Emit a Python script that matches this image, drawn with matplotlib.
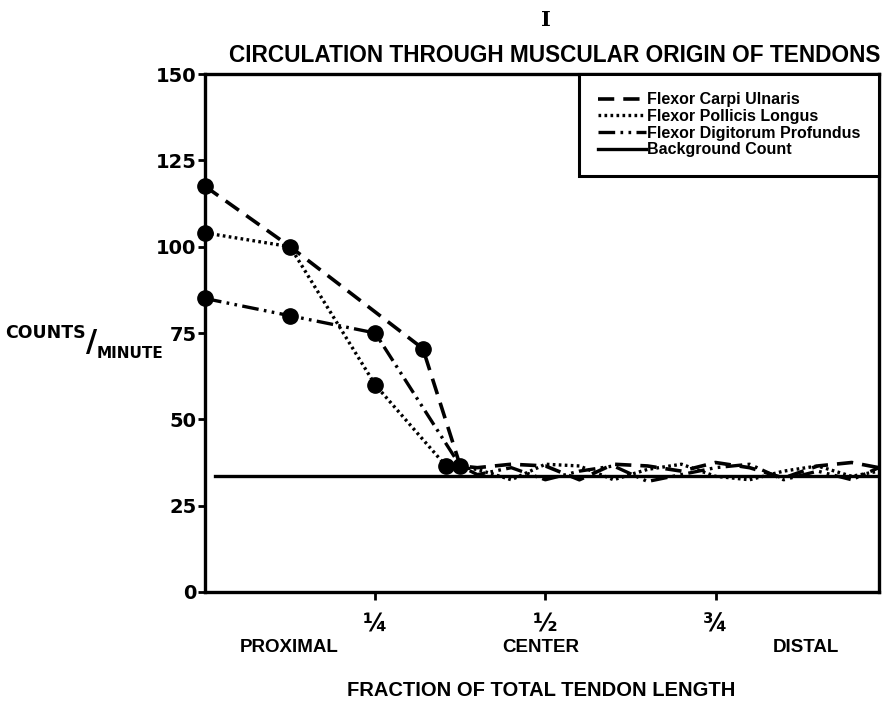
import numpy as np
import matplotlib
matplotlib.use("Agg")
from matplotlib import pyplot as plt

# fraction of tendon length along x, counts/minute along y
x_carpi = [0.0, 0.125, 0.32, 0.375, 0.40, 0.45, 0.50, 0.55, 0.60, 0.65, 0.70, 0.75, 0.80, 0.85, 0.90, 0.95, 0.99]
y_carpi = [117.5, 100, 70.5, 36.5, 36, 37, 36.5, 32.5, 37, 36.5, 35, 37.5, 36, 33, 36.5, 37.5, 36]

x_pollicis = [0.0, 0.125, 0.25, 0.354, 0.40, 0.45, 0.50, 0.55, 0.60, 0.65, 0.70, 0.75, 0.80, 0.85, 0.90, 0.95, 0.99]
y_pollicis = [104, 100, 60, 36.5, 35.5, 32.5, 37, 36.5, 32.5, 35.5, 37, 33.5, 32.5, 35, 36.5, 33.5, 35]

x_profundus = [0.0, 0.125, 0.25, 0.375, 0.40, 0.45, 0.50, 0.55, 0.60, 0.65, 0.70, 0.75, 0.80, 0.85, 0.90, 0.95, 0.99]
y_profundus = [85, 80, 75, 36.5, 34, 36, 32.5, 35, 36.5, 32, 34, 36, 37, 32.5, 35, 32.5, 36]

# points marked with dots
marked = [(0.0, 117.5), (0.125, 100), (0.32, 70.5), (0.375, 36.5),
          (0.0, 104), (0.25, 60), (0.354, 36.5),
          (0.0, 85), (0.125, 80), (0.25, 75)]

background_x = [0.015, 0.99]
background_y = [33.7, 33.7]

y_ticks = [0, 25, 50, 75, 100, 125, 150]
x_ticks = [0.25, 0.5, 0.75]
x_tick_labels = ['¼', '½', '¾']

plt.rcParams['font.family'] = ['DejaVu Sans']
plt.rcParams['font.weight'] = 'bold'

fig = plt.figure(figsize=(8.86, 7.01), dpi=100)
ax = fig.add_axes([0.2314, 0.1555, 0.7606, 0.7389])

ax.plot(x_carpi, y_carpi, color='black', lw=2.6, linestyle=(0, (4.5, 2.5)), label='Flexor Carpi Ulnaris')
ax.plot(x_pollicis, y_pollicis, color='black', lw=2.4, linestyle=(0, (0.8, 1.0)), label='Flexor Pollicis Longus')
ax.plot(x_profundus, y_profundus, color='black', lw=2.4, linestyle=(0, (5, 1.6, 0.8, 1.6, 0.8, 1.6)), label='Flexor Digitorum Profundus')
ax.plot(background_x, background_y, color='black', lw=2.4, label='Background Count')

mx = [p[0] for p in marked]
my = [p[1] for p in marked]
ax.plot(mx, my, 'o', color='black', ms=11, clip_on=False, zorder=5)

ax.set_xlim(0, 0.99)
ax.set_ylim(0, 150)
ax.set_yticks(y_ticks)
ax.set_yticklabels([str(v) for v in y_ticks], fontsize=14, fontweight='bold')
ax.set_xticks(x_ticks)
ax.set_xticklabels(x_tick_labels, fontsize=17, fontweight='bold')
ax.tick_params(axis='y', direction='out', length=5, width=2, pad=1)
ax.tick_params(axis='x', direction='out', length=6, width=2, pad=9)
for s in ax.spines.values():
    s.set_linewidth(2.4)

leg = ax.legend(loc='upper right', borderaxespad=0, fancybox=False, edgecolor='black',
                handlelength=3.0, handletextpad=0.1, labelspacing=0.1,
                borderpad=1.15, framealpha=1,
                prop={'family': 'Liberation Sans', 'weight': 'bold', 'size': 11.5})
leg.get_frame().set_linewidth(2.2)

fig.text(0.616, 0.972, 'I', ha='center', va='center', fontsize=15, fontweight='bold', family='DejaVu Serif')
fig.text(0.626, 0.921, 'CIRCULATION THROUGH MUSCULAR ORIGIN OF TENDONS', ha='center', va='center',
         fontsize=16.3, fontweight='bold', family='Liberation Sans')

for xv, lab in [(289, 'PROXIMAL'), (541, 'CENTER'), (806, 'DISTAL')]:
    fig.text(xv / 886, 1 - 648 / 701, lab, ha='center', va='center', fontsize=13.5,
             fontweight='bold', family='Liberation Sans')
fig.text(541 / 886, 1 - 690 / 701, 'FRACTION OF TOTAL TENDON LENGTH', ha='center', va='center',
         fontsize=14.5, fontweight='bold', family='Liberation Sans')

fig.text(5 / 886, 1 - 333 / 701, 'COUNTS', ha='left', va='center', fontsize=12.5, fontweight='bold')
fig.text(92 / 886, 1 - 342 / 701, '/', ha='center', va='center', fontsize=22, fontweight='bold')
fig.text(97 / 886, 1 - 353 / 701, 'MINUTE', ha='left', va='center', fontsize=11, fontweight='bold')

fig.savefig('out.png', dpi=100)
